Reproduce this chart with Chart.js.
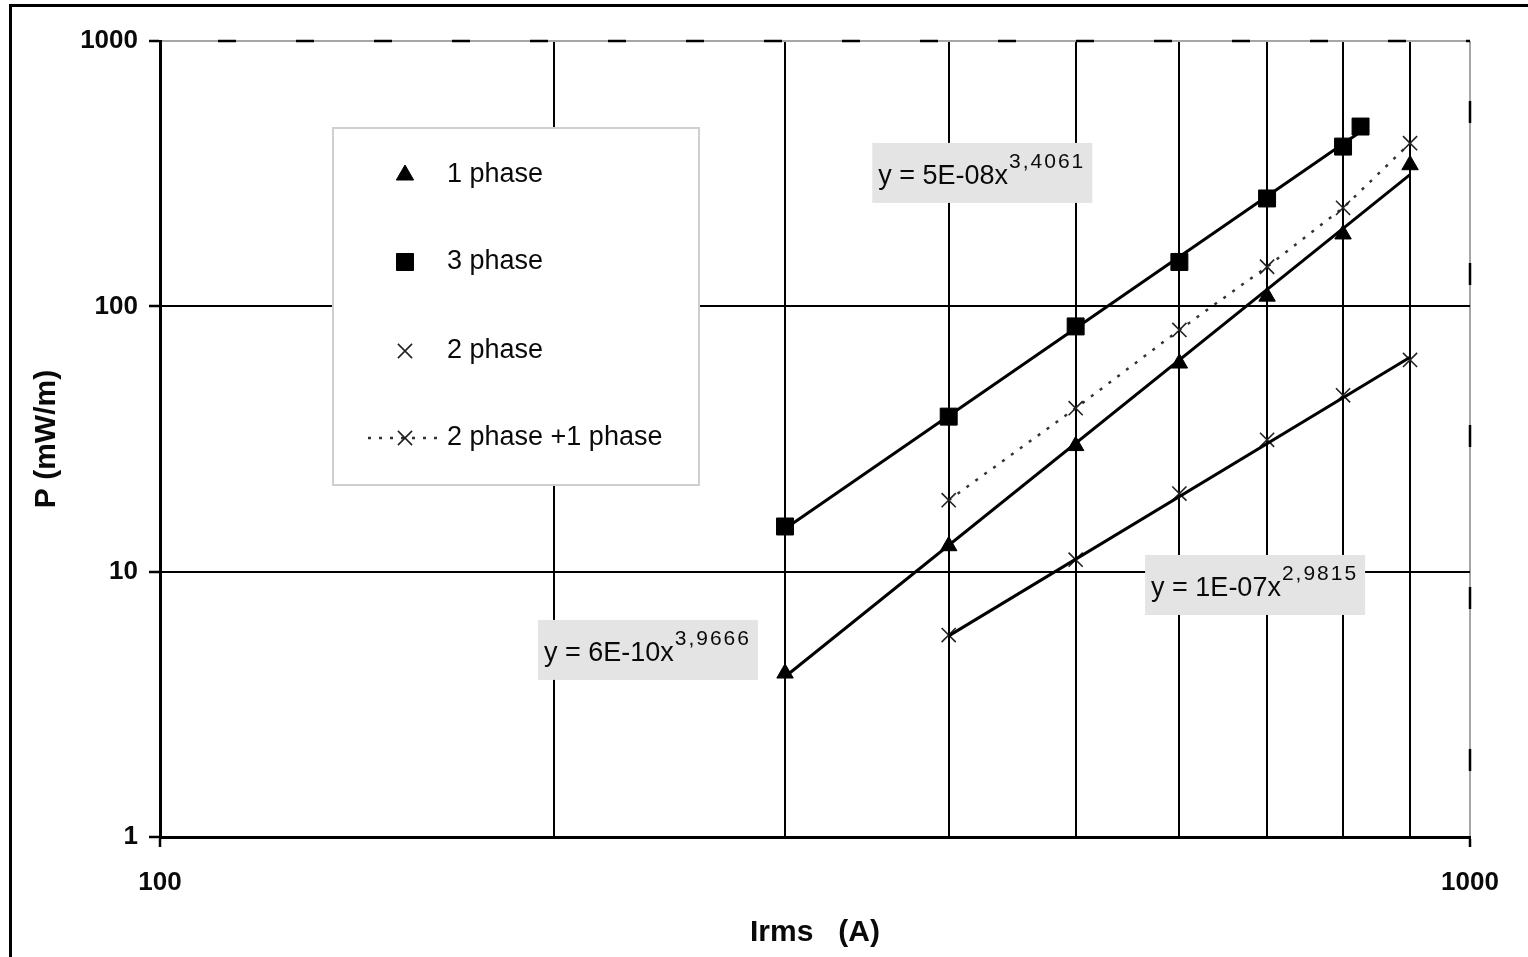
<!DOCTYPE html>
<html>
<head>
<meta charset="utf-8">
<title>P (mW/m) vs Irms</title>
<script src="https://cdn.jsdelivr.net/npm/chart.js@4/dist/chart.umd.min.js"></script>
<style>
  html, body { margin: 0; padding: 0; background: #fff; }
  #wrap { position: relative; width: 1528px; height: 957px; }
</style>
</head>
<body>
<div id="wrap"><canvas id="chart"></canvas></div>
<script>
// ---- measured losses P (mW/m) against current Irms (A) ----
const current1Phase = [300, 400, 500, 600, 700, 800, 900];
const loss1Phase    = [4.14, 12.5, 29.8, 61, 109, 187, 341];

const current3Phase = [300, 400, 500, 600, 700, 800, 825];
const loss3Phase    = [14.8, 38.4, 84, 147, 255, 400, 476];

const current2Phase = [400, 500, 600, 700, 800, 900];
const loss2Phase    = [5.77, 11.1, 19.7, 31.4, 46.2, 62.8];
const lossCombined  = [18.6, 41.3, 81.5, 141, 235, 412];

const seriesNames = ['1 phase', '3 phase', '2 phase', '2 phase +1 phase'];

// power-law trend lines y = a * x^b  (1 phase, 3 phase, 2 phase)
const trendCoef = [6.0e-10, 5.3e-8, 1.0e-7];
const trendExp  = [3.9666, 3.4061, 2.9815];

// axis ticks
const xGridValues  = [100, 200, 300, 400, 500, 600, 700, 800, 900, 1000];
const xLabelValues = [100, 1000];
const yTickValues  = [1, 10, 100, 1000];

// ---- helpers ----
const FONT = '"Liberation Sans", Arial, Helvetica, sans-serif';
const GRAY_EDGE = '#a6a6a6';

function toPoints(xs, ys) {
  return xs.map((x, i) => ({ x: x, y: ys[i] }));
}
function trendPoints(k, xs) {
  const a = trendCoef[k], b = trendExp[k];
  return [xs[0], xs[xs.length - 1]].map(x => ({ x: x, y: a * Math.pow(x, b) }));
}
function formatCoef(a) {
  const e = Math.floor(Math.log10(a) + 1e-9);
  const m = Math.round(a / Math.pow(10, e));
  return m + 'E' + (e < 0 ? '-' : '+') + String(Math.abs(e)).padStart(2, '0');
}
function formatExp(b) {
  return b.toFixed(4).replace('.', ',');
}

// equation boxes, anchored (top-left) in data coordinates
const equationAnchors = [
  { series: 0, x: 194.3, y: 6.58 },
  { series: 1, x: 349.7, y: 413 },
  { series: 2, x: 564.9, y: 11.56 }
];

// ---- plugins ----
const pageFrame = {
  id: 'pageFrame',
  beforeDraw(chart) {
    const ctx = chart.ctx;
    ctx.save();
    ctx.fillStyle = '#fff';
    ctx.fillRect(0, 0, chart.width, chart.height);
    ctx.strokeStyle = '#000';
    ctx.lineWidth = 3;
    ctx.beginPath();
    ctx.moveTo(10.5, chart.height);
    ctx.lineTo(10.5, 5.5);
    ctx.lineTo(chart.width, 5.5);
    ctx.stroke();
    ctx.restore();
  }
};

const plotEdges = {
  id: 'plotEdges',
  beforeDatasetsDraw(chart) {
    const { ctx, chartArea: a } = chart;
    ctx.save();
    ctx.strokeStyle = '#000';
    ctx.lineWidth = 2.5;
    ctx.setLineDash([18, 60]);
    ctx.beginPath();
    ctx.moveTo(a.left + 58, a.top);
    ctx.lineTo(a.right, a.top);
    ctx.stroke();
    ctx.setLineDash([22, 140]);
    ctx.lineDashOffset = -60;
    ctx.beginPath();
    ctx.moveTo(a.right, a.top);
    ctx.lineTo(a.right, a.bottom);
    ctx.stroke();
    ctx.restore();
  }
};

const equationBoxes = {
  id: 'equationBoxes',
  beforeDatasetsDraw(chart) {
    const { ctx, scales } = chart;
    ctx.save();
    equationAnchors.forEach(eq => {
      const left = scales.x.getPixelForValue(eq.x);
      const top = scales.y.getPixelForValue(eq.y);
      const main = 'y = ' + formatCoef(trendCoef[eq.series]) + 'x';
      const sup = formatExp(trendExp[eq.series]);
      ctx.font = '27px ' + FONT;
      ctx.letterSpacing = '0px';
      const wMain = ctx.measureText(main).width;
      ctx.font = '21px ' + FONT;
      ctx.letterSpacing = '2px';
      const wSup = ctx.measureText(sup).width;
      const w = wMain + wSup + 14;
      ctx.fillStyle = '#e4e4e4';
      ctx.fillRect(left, top, w, 60);
      ctx.fillStyle = '#0a0a0a';
      ctx.textBaseline = 'alphabetic';
      ctx.textAlign = 'left';
      ctx.font = '27px ' + FONT;
      ctx.letterSpacing = '0px';
      ctx.fillText(main, left + 6, top + 41);
      ctx.font = '21px ' + FONT;
      ctx.letterSpacing = '2px';
      ctx.fillText(sup, left + 7 + wMain, top + 25);
    });
    ctx.restore();
  }
};

const boxedLegend = {
  id: 'boxedLegend',
  beforeDatasetsDraw(chart) {
    const { ctx, chartArea: a } = chart;
    const left = a.left + 173, top = a.top + 87, w = 366, h = 357;
    ctx.save();
    ctx.fillStyle = '#fff';
    ctx.fillRect(left, top, w, h);
    ctx.strokeStyle = '#cfcfcf';
    ctx.lineWidth = 2;
    ctx.strokeRect(left, top, w, h);

    const rows = [47, 134, 223, 310];
    chart.data.datasets.filter(d => d.legendRow !== undefined).forEach(d => {
      const cy = top + rows[d.legendRow];
      const mx = left + 72;
      if (d.showLine) {
        ctx.save();
        ctx.strokeStyle = d.borderColor;
        ctx.lineWidth = d.borderWidth;
        ctx.setLineDash(d.borderDash);
        ctx.beginPath();
        ctx.moveTo(left + 35, cy);
        ctx.lineTo(left + 105, cy);
        ctx.stroke();
        ctx.restore();
      }
      ctx.fillStyle = d.pointBackgroundColor;
      ctx.strokeStyle = d.pointBorderColor;
      ctx.lineWidth = d.pointBorderWidth;
      ctx.setLineDash([]);
      Chart.helpers.drawPoint(ctx, {
        pointStyle: d.pointStyle,
        radius: d.legendRadius,
        rotation: 0,
        borderWidth: d.pointBorderWidth
      }, mx, cy);
      ctx.fillStyle = '#0a0a0a';
      ctx.font = '27px ' + FONT;
      ctx.textBaseline = 'middle';
      ctx.textAlign = 'left';
      ctx.fillText(d.label, left + 114, cy);
    });
    ctx.restore();
  }
};

// ---- chart ----
const trendStyle = {
  type: 'line',
  borderColor: '#000',
  borderWidth: 3,
  pointRadius: 0,
  showLine: true,
  fill: false
};

new Chart(document.getElementById('chart'), {
  type: 'scatter',
  data: {
    datasets: [
      Object.assign({ label: 'trend 1 phase', data: trendPoints(0, current1Phase) }, trendStyle),
      Object.assign({ label: 'trend 3 phase', data: trendPoints(1, current3Phase) }, trendStyle),
      Object.assign({ label: 'trend 2 phase', data: trendPoints(2, current2Phase) }, trendStyle),
      {
        label: seriesNames[0], legendRow: 0, legendRadius: 10,
        data: toPoints(current1Phase, loss1Phase),
        showLine: false, pointStyle: 'triangle', pointRadius: 9.5,
        pointBackgroundColor: '#000', pointBorderColor: '#000', pointBorderWidth: 1
      },
      {
        label: seriesNames[1], legendRow: 1, legendRadius: 12,
        data: toPoints(current3Phase, loss3Phase),
        showLine: false, pointStyle: 'rect', pointRadius: 12,
        pointBackgroundColor: '#000', pointBorderColor: '#000', pointBorderWidth: 1
      },
      {
        label: seriesNames[2], legendRow: 2, legendRadius: 10,
        data: toPoints(current2Phase, loss2Phase),
        showLine: false, pointStyle: 'crossRot', pointRadius: 10,
        pointBackgroundColor: '#000', pointBorderColor: '#222', pointBorderWidth: 1.6
      },
      {
        label: seriesNames[3], legendRow: 3, legendRadius: 10,
        data: toPoints(current2Phase, lossCombined),
        showLine: true, borderColor: '#333', borderWidth: 2.5, borderDash: [3, 8],
        pointStyle: 'crossRot', pointRadius: 10,
        pointBackgroundColor: '#000', pointBorderColor: '#222', pointBorderWidth: 1.6
      }
    ]
  },
  options: {
    responsive: true,
    maintainAspectRatio: false,
    animation: false,
    events: [],
    layout: { padding: { top: 41, right: 58, bottom: 0, left: 0 } },
    plugins: {
      legend: { display: false },
      tooltip: { enabled: false },
      title: { display: false }
    },
    scales: {
      x: {
        type: 'logarithmic',
        position: 'bottom',
        min: 100,
        max: 1000,
        afterBuildTicks(scale) {
          scale.ticks = xGridValues.map(v => ({ value: v }));
        },
        afterFit(scale) { scale.height = 120; },
        ticks: {
          autoSkip: false,
          maxRotation: 0,
          padding: 20,
          color: '#0a0a0a',
          font: { family: FONT, size: 26, weight: 'bold' },
          callback: v => (xLabelValues.includes(v) ? String(v) : '')
        },
        grid: {
          color: c => (c.tick && c.tick.value === 1000 ? GRAY_EDGE : '#000'),
          lineWidth: 2,
          drawTicks: true,
          tickLength: 10,
          tickWidth: 2.5,
          tickColor: c => (c.tick && xLabelValues.includes(c.tick.value) ? '#000' : 'rgba(0,0,0,0)')
        },
        border: { display: true, color: '#000', width: 3 },
        title: {
          display: true,
          text: 'Irms   (A)',
          color: '#0a0a0a',
          font: { family: FONT, size: 30, weight: 'bold' },
          padding: { top: 0, bottom: 6 }
        }
      },
      y: {
        type: 'logarithmic',
        position: 'left',
        min: 1,
        max: 1000,
        afterBuildTicks(scale) {
          scale.ticks = yTickValues.map(v => ({ value: v }));
        },
        afterFit(scale) { scale.width = 160; },
        ticks: {
          autoSkip: false,
          padding: 11,
          color: '#0a0a0a',
          font: { family: FONT, size: 26, weight: 'bold' },
          callback: v => String(v)
        },
        grid: {
          color: c => (c.tick && c.tick.value === 1000 ? GRAY_EDGE : '#000'),
          lineWidth: 2,
          drawTicks: true,
          tickLength: 11,
          tickWidth: 2.5,
          tickColor: '#000'
        },
        border: { display: true, color: '#000', width: 3 },
        title: {
          display: true,
          text: 'P (mW/m)',
          color: '#0a0a0a',
          font: { family: FONT, size: 30, weight: 'bold' },
          padding: { top: 29, bottom: 0 }
        }
      }
    }
  },
  plugins: [pageFrame, plotEdges, equationBoxes, boxedLegend]
});
</script>
</body>
</html>
